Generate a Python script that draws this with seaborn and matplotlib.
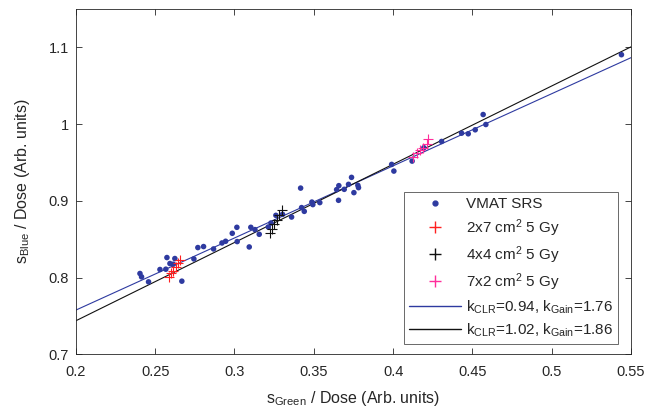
import numpy as np
import pandas as pd
import seaborn as sns
import matplotlib.pyplot as plt
from matplotlib.lines import Line2D

# Pontos VMAT SRS (s_Green/Dose, s_Blue/Dose)
vmat_x = [0.2404, 0.2414, 0.2458, 0.2530, 0.2567, 0.2574, 0.2593, 0.2614, 0.2624, 0.2668,
          0.2744, 0.2769, 0.2805, 0.2868, 0.2921, 0.2944, 0.2986, 0.3015, 0.3017, 0.3093,
          0.3103, 0.3129, 0.3156, 0.3213, 0.3230, 0.3261, 0.3303, 0.3360, 0.3417, 0.3423,
          0.3440, 0.3488, 0.3494, 0.3538, 0.3644, 0.3658, 0.3656, 0.3692, 0.3719, 0.3738,
          0.3753, 0.3778, 0.3782, 0.3991, 0.4005, 0.4120, 0.4194, 0.4306, 0.4432, 0.4474,
          0.4518, 0.4568, 0.4585, 0.5440]
vmat_y = [0.8053, 0.8009, 0.7944, 0.8105, 0.8109, 0.8261, 0.8183, 0.8174, 0.8248, 0.7953,
          0.8243, 0.8391, 0.8404, 0.8373, 0.8451, 0.8473, 0.8577, 0.8655, 0.8469, 0.8399,
          0.8655, 0.8625, 0.8564, 0.8659, 0.8711, 0.8811, 0.8824, 0.8789, 0.9166, 0.8912,
          0.8863, 0.8984, 0.8951, 0.8977, 0.9146, 0.9198, 0.9007, 0.9150, 0.9215, 0.9306,
          0.9107, 0.9202, 0.9172, 0.9475, 0.9388, 0.9518, 0.9692, 0.9774, 0.9882, 0.9874,
          0.9926, 1.0125, 0.9995, 1.0905]

# Campos quadrados/retangulares 5 Gy
f2x7_x = [0.2590, 0.2600, 0.2610, 0.2630, 0.2645, 0.2655]
f2x7_y = [0.8010, 0.8060, 0.8090, 0.8140, 0.8190, 0.8230]
f4x4_x = [0.3223, 0.3234, 0.3250, 0.3265, 0.3282, 0.3297]
f4x4_y = [0.8581, 0.8638, 0.8694, 0.8746, 0.8811, 0.8876]
f7x2_x = [0.4127, 0.4148, 0.4169, 0.4190, 0.4211, 0.4221]
f7x2_y = [0.9570, 0.9622, 0.9657, 0.9692, 0.9744, 0.9809]

# Retas de ajuste (inclinação = k_CLR, intercepto)
fit_labels = [r'k$\mathregular{_{CLR}}$=0.94, k$\mathregular{_{Gain}}$=1.76',
              r'k$\mathregular{_{CLR}}$=1.02, k$\mathregular{_{Gain}}$=1.86']
fit_slope = [0.94, 1.02]
fit_icept = [0.5696, 0.5397]
fit_colors = ['#2e3aa0', '#111111']

sns.set_style('ticks')
plt.rcParams['font.family'] = ['Liberation Sans', 'DejaVu Sans']
plt.rcParams['mathtext.fontset'] = 'custom'
plt.rcParams['mathtext.rm'] = 'Liberation Sans'

fig = plt.figure(figsize=(6.6, 4.11), dpi=100)
ax = fig.add_axes([0.115, 0.138, 0.841, 0.84])

blue = '#2e3aa0'
red = '#ff2020'
pink = '#ff2d9b'
x_fit = np.array([0.2, 0.55])
for k, b, c in zip(fit_slope, fit_icept, fit_colors):
    sns.lineplot(x=x_fit, y=k * x_fit + b, color=c, linewidth=0.8, ax=ax)

sns.scatterplot(x=vmat_x, y=vmat_y, color=blue, s=16, edgecolor='none', ax=ax, zorder=3)
sns.scatterplot(x=f2x7_x, y=f2x7_y, marker='+', color=red, s=60, linewidth=0.8, ax=ax, zorder=4)
sns.scatterplot(x=f4x4_x, y=f4x4_y, marker='+', color='#111111', s=60, linewidth=0.8, ax=ax, zorder=4)
sns.scatterplot(x=f7x2_x, y=f7x2_y, marker='+', color=pink, s=60, linewidth=0.8, ax=ax, zorder=4)

ax.set_xlim(0.2, 0.55)
ax.set_ylim(0.7, 1.15)
ax.set_xticks([0.2, 0.25, 0.3, 0.35, 0.4, 0.45, 0.5, 0.55])
ax.set_xticklabels(['0.2', '0.25', '0.3', '0.35', '0.4', '0.45', '0.5', '0.55'])
ax.set_yticks([0.7, 0.8, 0.9, 1.0, 1.1])
ax.set_yticklabels(['0.7', '0.8', '0.9', '1', '1.1'])
ax.tick_params(direction='in', top=True, right=True, length=4, width=0.6,
               colors='#262626', labelsize=10.5, labelcolor='#262626')
ax.tick_params(axis='x', pad=8)
ax.tick_params(axis='y', pad=5)
for sp in ax.spines.values():
    sp.set_visible(True)
    sp.set_color('#262626')
    sp.set_linewidth(0.6)

ax.set_xlabel(r's$\mathregular{_{Green}}$ / Dose (Arb. units)', fontsize=11.5, color='#262626', labelpad=7)
ax.set_ylabel(r's$\mathregular{_{Blue}}$ / Dose (Arb. units)', fontsize=11.5, color='#262626', labelpad=12)

handles = [
    Line2D([], [], marker='o', linestyle='none', color=blue, markersize=3.5),
    Line2D([], [], marker='+', linestyle='none', color=red, markersize=9, markeredgewidth=1.0),
    Line2D([], [], marker='+', linestyle='none', color='#111111', markersize=9, markeredgewidth=1.0),
    Line2D([], [], marker='+', linestyle='none', color=pink, markersize=9, markeredgewidth=1.0),
    Line2D([], [], color=fit_colors[0], linewidth=1.0),
    Line2D([], [], color=fit_colors[1], linewidth=1.0),
]
labels = ['VMAT SRS', r'2x7 cm$\mathregular{^2}$ 5 Gy', r'4x4 cm$\mathregular{^2}$ 5 Gy',
          r'7x2 cm$\mathregular{^2}$ 5 Gy'] + fit_labels
leg = ax.legend(handles, labels, loc='lower right', bbox_to_anchor=(0.977, 0.03),
                fontsize=11, frameon=True, fancybox=False, handlelength=3.4,
                handletextpad=0.3, labelspacing=0.36, borderpad=0.35, borderaxespad=0)
leg.get_frame().set_edgecolor('#262626')
leg.get_frame().set_linewidth(0.6)
for t in leg.get_texts():
    t.set_color('#262626')

plt.savefig('out.png', dpi=100)
